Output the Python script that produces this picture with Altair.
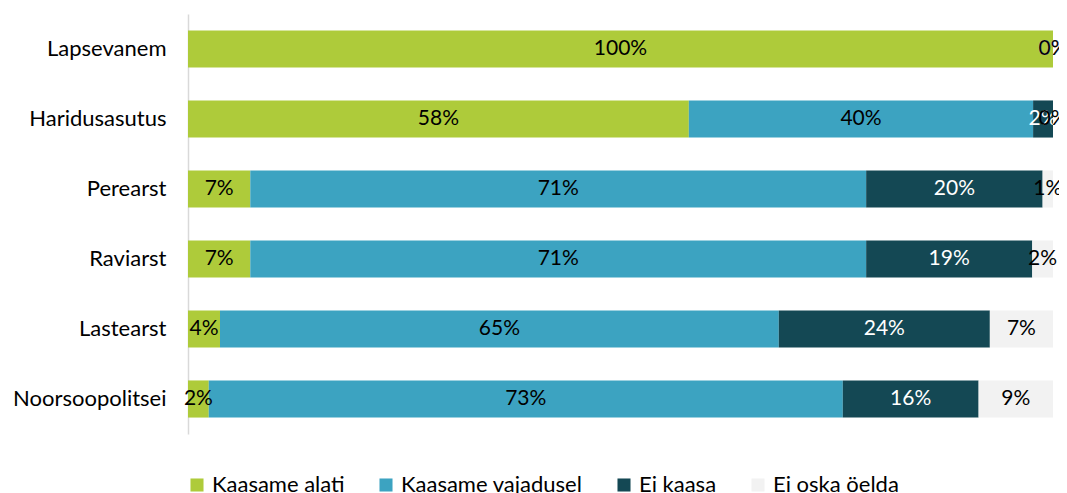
import altair as alt
import pandas as pd

categories = ["Lapsevanem", "Haridusasutus", "Perearst", "Raviarst", "Lastearst", "Noorsoopolitsei"]
series = ["Kaasame alati", "Kaasame vajadusel", "Ei kaasa", "Ei oska öelda"]
colors = ["#aecb3a", "#3ca3c1", "#144854", "#f2f2f2"]

kaasame_alati = [100.0, 57.9, 7.2, 7.2, 3.7, 2.4]
kaasame_vajadusel = [0.0, 39.8, 71.2, 71.2, 64.6, 73.3]
ei_kaasa = [0.0, 2.3, 20.4, 19.2, 24.4, 15.7]
ei_oska = [0.0, 0.0, 1.2, 2.4, 7.3, 8.6]

rows = []
for si, (s, vals) in enumerate(zip(series, [kaasame_alati, kaasame_vajadusel, ei_kaasa, ei_oska])):
    for c, v in zip(categories, vals):
        rows.append({"category": c, "series": s, "order": si, "value": v})
df = pd.DataFrame(rows)

FONT = "Lato"

base = alt.Chart(df).transform_stack(
    stack="value", groupby=["category"], as_=["v0", "v1"],
    sort=[alt.SortField("order", order="ascending")]
).transform_calculate(
    mid="(datum.v0 + datum.v1) / 2",
    label="format(round(datum.value), 'd') + '%'"
)

yenc = alt.Y("category:N", sort=categories, title=None,
             scale=alt.Scale(paddingInner=0.47, paddingOuter=0.235),
             axis=alt.Axis(labelFont=FONT, labelFontSize=22, labelColor="#000000",
                           ticks=False, labelPadding=22, domainColor="#d9d9d9",
                           domainWidth=1.5, grid=False))

bars = base.mark_bar().encode(
    x=alt.X("v0:Q", scale=alt.Scale(domain=[0, 100], nice=False), axis=None),
    x2="v1:Q",
    y=yenc,
    color=alt.Color("series:N", sort=series,
                    scale=alt.Scale(domain=series, range=colors),
                    legend=alt.Legend(title=None, orient="none", direction="horizontal",
                                      legendX=-2, legendY=460,
                                      symbolType="square", symbolSize=170,
                                      symbolStrokeWidth=0, labelFont=FONT,
                                      labelFontSize=22, labelColor="#000000",
                                      columnPadding=30, labelOffset=4,
                                      labelLimit=400)),
)

texts = base.mark_text(font=FONT, fontSize=21, baseline="middle", align="center").encode(
    x=alt.X("mid:Q"),
    y=alt.Y("category:N", sort=categories),
    text="label:N",
    color=alt.condition("datum.series === 'Ei kaasa'", alt.value("white"), alt.value("black")),
    order=alt.Order("order:Q"),
)

chart = (bars + texts).properties(
    width=865, height=420,
    autosize=alt.AutoSizeParams(type="none"),
    padding={"left": 180, "top": 6, "right": 6, "bottom": 59},
).configure_view(stroke=None)

chart.save("out.html", embed_options={"renderer": "svg", "actions": False})
